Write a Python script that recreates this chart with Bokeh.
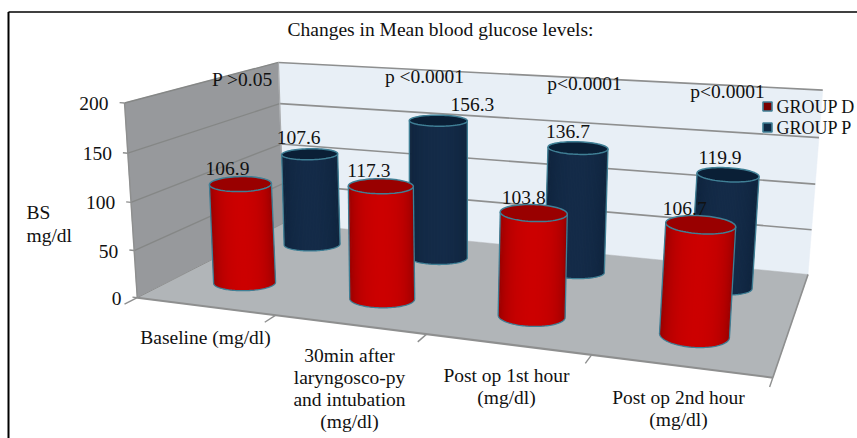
import numpy as np
from bokeh.plotting import figure
from bokeh.models import Range1d
from bokeh.embed import file_html
from bokeh.resources import INLINE
from bokeh.core.properties import value

# ---- data
categories = ["Baseline (mg/dl)", "30min after\nlaryngosco-py\nand intubation\n(mg/dl)",
              "Post op 1st hour\n(mg/dl)", "Post op 2nd hour\n(mg/dl)"]
group_d = [106.9, 117.3, 103.8, 106.7]
group_p = [107.6, 156.3, 136.7, 119.9]
series_names = ["GROUP D", "GROUP P"]
y_ticks = [0, 50, 100, 150, 200]
p_notes = ["P >0.05", "p <0.0001", "p<0.0001", "p<0.0001"]
title = "Changes in Mean blood glucose levels:"

# ---- layout (reference pixels)
WIN_W, WIN_H = 857, 438
FONT = value("Liberation Serif")
FS = "19.5px"
# unit-box calibration: (across, depth, height) -> pixel
CAL = [((0, 0, 0), (138, 297)), ((0, 1, 0), (282, 223)), ((1, 0, 0), (772, 378)), ((1, 1, 0), (808, 273)),
       ((0, 0, 1), (123, 102)), ((0, 1, 1), (279, 62)), ((1, 1, 1), (822, 90))]
Y_MAX = 200.0
DEPTH = {"D": 0.26, "P": 0.76}
U_SHIFT = -0.003
NOTE_POS = [(242, 79), (424, 76), (584, 83), (727, 91)]
CAT_POS = [(205, 337), (349, 355), (506, 375), (678, 397)]
D_OFF = [(-13, -16), (-12, -16), (-10, -16), (-16, -16)]
P_OFF = [(-11, -17), (34, -16), (-10, -17), (-8, -17)]
# cylinder half-width and ellipse half-heights, in pixels
D_SHAPE = {"rx": [31, 32.5, 33.5, 35], "top": [7.5, 7.5, 8.5, 9], "base": [8, 9, 10, 12]}
P_SHAPE = {"rx": [28, 29, 30, 31], "top": [5.5, 5.5, 6.3, 7], "base": [6.5, 7, 7, 8]}

A = []
for (a, b, c), (x, y) in CAL:
    A.append([a, b, c, 1, 0, 0, 0, 0, -x * a, -x * b, -x * c, -x])
    A.append([0, 0, 0, 0, a, b, c, 1, -y * a, -y * b, -y * c, -y])
PM = np.linalg.svd(np.array(A, float))[2][-1].reshape(3, 4)


def proj(u, w, h):
    u, w, h = np.broadcast_arrays(np.asarray(u, float), np.asarray(w, float), np.asarray(h, float))
    v = PM @ np.stack([u, w, h, np.ones_like(u)])
    return v[0] / v[2], v[1] / v[2]


def seg(p, a, b, **kw):
    xa, ya = proj(*a)
    xb, yb = proj(*b)
    p.line([float(xa), float(xb)], [float(ya), float(yb)], **kw)


def poly(p, pts, color):
    xs, ys = zip(*[proj(*q) for q in pts])
    p.patch([float(x) for x in xs], [float(y) for y in ys], fill_color=color, line_color=color, line_width=0.5)


def mix(c1, c2, t):
    return "#%02x%02x%02x" % tuple(int(round(a + (b - a) * t)) for a, b in zip(c1, c2))


p = figure(width=WIN_W, height=WIN_H, output_backend="svg", toolbar_location=None,
           x_range=Range1d(0, WIN_W), y_range=Range1d(WIN_H, 0), min_border=0,
           outline_line_color=None, background_fill_color="white", border_fill_color="white")
p.axis.visible = False
p.grid.visible = False

# walls and floor
poly(p, [(0, 0, 0), (0, 1, 0), (0, 1, 1), (0, 0, 1)], "#97999c")
poly(p, [(0, 1, 0), (1, 1, 0), (1, 1, 1), (0, 1, 1)], "#e8eff6")
poly(p, [(0, 0, 0), (1, 0, 0), (1, 1, 0), (0, 1, 0)], "#b1b5b8")

GRID = "#8e8f8f"
for t in y_ticks:
    h = t / Y_MAX
    if t > 0:
        seg(p, (0, 0, h), (0, 1, h), line_color="#858786", line_width=1.4)
        seg(p, (0, 1, h), (1, 1, h), line_color=GRID, line_width=1.6)
    seg(p, (-0.009, 0, h), (0, 0, h), line_color=GRID, line_width=1.4)
    x, y = proj(-0.009, 0, h)
    p.text([float(x) - 11], [float(y) + 1], text=[str(t)], text_font=FONT, text_font_size=FS,
           text_align="right", text_baseline="middle", text_color="#111111")
seg(p, (0, 0, 0), (0, 0, 1), line_color=GRID, line_width=1.4)
seg(p, (0, 1, 0), (0, 1, 1), line_color="#a9abad", line_width=1.2)
seg(p, (0, 0, 0), (1, 0, 0), line_color=GRID, line_width=2)
seg(p, (1, 0, 0), (1, 1, 0), line_color=GRID, line_width=1.6)
seg(p, (0, 0, 0), (0, 1, 0), line_color=GRID, line_width=1.0)
for i in range(5):
    seg(p, (i / 4, 0, 0), (i / 4, -0.07, 0), line_color=GRID, line_width=1.4)


def cylinder(i, val, depth, shape, edge, mid, top):
    u0 = (i + 0.5) / 4 + U_SHIFT
    h = val / Y_MAX
    th = np.linspace(np.pi, 2 * np.pi, 61)
    r = shape["rx"][i]
    slope = 0.1 * (u0 - 0.5) + 0.02

    def ring(level, ry, angles):
        cx, cy = proj(u0, depth, level)
        return cx + np.cos(angles) * r, cy + np.cos(angles) * r * slope - np.sin(angles) * ry

    bx, by = ring(0, shape["base"][i], th)
    tx, ty = ring(h, shape["top"][i], th)
    n = len(th) - 1
    for j in range(n):
        j2 = min(j + 2, n)
        s = np.sin(np.pi * (j + 0.5) / n) ** 0.8
        col = mix(edge, mid, s)
        p.patch([bx[j], bx[j2], tx[j2], tx[j]], [by[j], by[j2], ty[j2], ty[j]],
                fill_color=col, line_color=None)
    ex, ey = ring(h, shape["top"][i], np.linspace(0, 2 * np.pi, 73))
    outline = "#3f7f95"
    p.line(bx, by, line_color=outline, line_width=1.3)
    p.line([bx[0], tx[0]], [by[0], ty[0]], line_color=outline, line_width=1.3)
    p.line([bx[-1], tx[-1]], [by[-1], ty[-1]], line_color=outline, line_width=1.3)
    p.patch(ex, ey, fill_color=top, line_color=outline, line_width=1.5)
    cx, cy = proj(u0, depth, h)
    return float(cx), float(cy)


RED = ((0x80, 0, 0), (0xcc, 0, 0), "#990000")
BLUE = ((0x0b, 0x1f, 0x36), (0x14, 0x2b, 0x48), "#0a1f36")
labels = []
for i, v in enumerate(group_p):
    cx, cy = cylinder(i, v, DEPTH["P"], P_SHAPE, *BLUE)
    labels.append((cx + P_OFF[i][0], cy + P_OFF[i][1], f"{v:.1f}"))
for i, v in enumerate(group_d):
    cx, cy = cylinder(i, v, DEPTH["D"], D_SHAPE, *RED)
    labels.append((cx + D_OFF[i][0], cy + D_OFF[i][1], f"{v:.1f}"))
for x, y, t in labels:
    p.text([x], [y], text=[t], text_font=FONT, text_font_size=FS, text_align="center",
           text_baseline="middle", text_color="#111111")

# texts
p.text([440], [29], text=[title], text_font=FONT, text_font_size=FS, text_align="center",
       text_baseline="middle", text_color="#111111")
for (x, y), t in zip(NOTE_POS, p_notes):
    p.text([x], [y], text=[t], text_font=FONT, text_font_size=FS, text_align="center",
           text_baseline="middle", text_color="#111111")
for (x, y), c in zip(CAT_POS, categories):
    for j, line in enumerate(c.split("\n")):
        p.text([x], [y + j * 22], text=[line], text_font=FONT, text_font_size=FS, text_align="center",
               text_baseline="middle", text_color="#111111")
p.text([26, 26], [212, 235], text=["BS", "mg/dl"], text_font=FONT, text_font_size=FS, text_align="left",
       text_baseline="middle", text_color="#111111")

# legend
for y, name, col in zip((106, 127), series_names, ("#7a0000", "#0f2a45")):
    p.rect([767], [y], width=9, height=9, fill_color=col, line_color="#3f7f95", line_width=1.6)
    p.text([776], [y], text=[name], text_font=FONT, text_font_size="18px", text_align="left",
           text_baseline="middle", text_color="#111111")

# frame
p.line([8, 8], [WIN_H, 11.5], line_color="black", line_width=2)
p.line([8, WIN_W], [11.5, 11.5], line_color="black", line_width=1.6)

open("out.html", "w").write(file_html(p, INLINE))
